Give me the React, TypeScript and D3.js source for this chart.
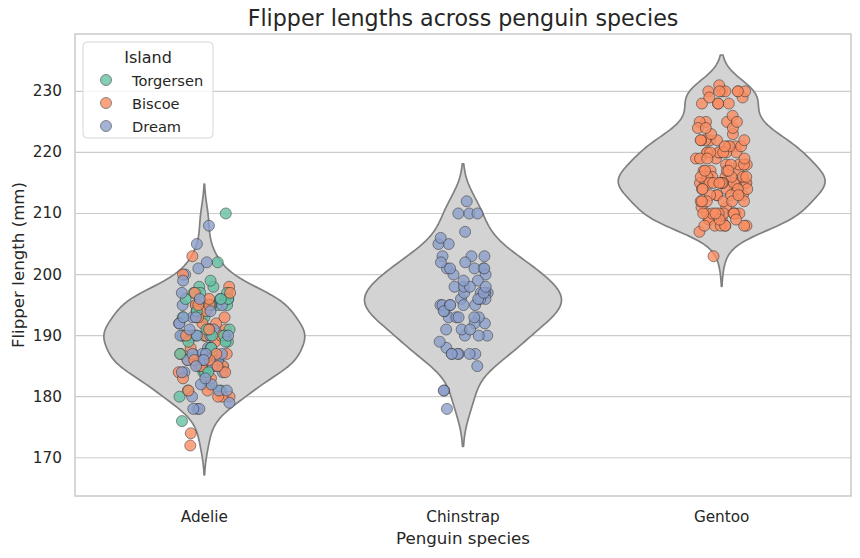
import React from "react";
import * as d3 from "d3";

const species = ["Adelie", "Chinstrap", "Gentoo"];
const islands = ["Torgersen", "Biscoe", "Dream"];
const islandColors = ["#66c2a5", "#fc8d62", "#8da0cb"];
const yTicks = [170, 180, 190, 200, 210, 220, 230];

const adelieTorgersen = [
  181, 186, 195, 193, 190, 181, 195, 193, 190, 186, 180, 182, 191, 198, 185, 195, 197, 184, 194,
  190, 190, 196, 197, 190, 195, 191, 184, 187, 195, 189, 196, 187, 193, 191, 194, 190, 189, 189, 190, 202,
  176, 198, 197, 184, 191, 188, 199, 196, 210, 187, 196,
];
const adelieBiscoe = [
  174, 180, 189, 185, 180, 187, 183, 187, 172, 180,
  190, 191, 186, 193, 181, 194, 185, 195, 185, 192, 184, 192, 195, 188, 190, 198,
  203, 183, 190, 193, 184, 197, 190, 197, 191, 187, 186, 185, 196, 186, 181, 200, 195, 193,
];
const adelieDream = [
  178, 178, 188, 184, 195, 196, 190, 180, 181, 184, 182, 195, 186, 196, 185, 190, 182, 179, 190, 191,
  186, 188, 190, 200, 187, 191, 186, 193, 181, 194, 185, 195, 205, 187, 186, 187, 208, 190, 196, 178,
  192, 192, 202, 183, 190, 193, 184, 199, 190, 197, 191, 187, 186, 185, 193, 201,
];
const chinstrapDream = [
  192, 196, 193, 188, 197, 198, 178, 197, 195, 198, 193, 194, 185, 201, 190, 201, 197, 181, 190, 195,
  181, 191, 187, 193, 195, 197, 200, 200, 191, 205, 187, 201, 187, 203, 195, 199, 195, 210, 192, 205,
  210, 187, 196, 196, 196, 201, 190, 212, 187, 198, 199, 201, 193, 203, 187, 197, 191, 203, 202, 194,
  206, 189, 195, 207, 202, 193, 210, 198,
];
const gentooBiscoe = [
  211, 230, 210, 218, 215, 210, 211, 219, 209, 215, 214, 216, 214, 213, 210, 217, 210, 221, 209, 222,
  218, 215, 213, 215, 215, 215, 216, 215, 210, 220, 222, 209, 207, 230, 220, 220, 213, 219, 208, 208,
  208, 225, 210, 216, 222, 217, 210, 225, 213, 215, 210, 220, 210, 225, 217, 220, 208, 220, 208, 224,
  208, 221, 214, 231, 219, 230, 214, 229, 220, 223, 216, 221, 221, 217, 216, 230, 209, 220, 215, 223,
  212, 221, 212, 224, 212, 228, 218, 218, 212, 230, 218, 228, 212, 224, 214, 226, 216, 222, 203, 225,
  219, 228, 215, 228, 216, 215, 210, 219, 208, 209, 216, 229, 213, 230, 217, 230, 217, 222, 214, 215,
  222, 212, 213,
];

type Pt = { s: number; isl: number; v: number };

function chunks(arr: number[], k: number): number[][] {
  const out: number[][] = [];
  const size = Math.ceil(arr.length / k);
  for (let i = 0; i < k; i++) out.push(arr.slice(i * size, (i + 1) * size));
  return out;
}

function buildPoints(): Pt[] {
  const pts: Pt[] = [];
  const t = chunks(adelieTorgersen, 3);
  const b = chunks(adelieBiscoe, 3);
  const d = chunks(adelieDream, 3);
  for (let i = 0; i < 3; i++) {
    t[i].forEach((v) => pts.push({ s: 0, isl: 0, v }));
    b[i].forEach((v) => pts.push({ s: 0, isl: 1, v }));
    d[i].forEach((v) => pts.push({ s: 0, isl: 2, v }));
  }
  chinstrapDream.forEach((v) => pts.push({ s: 1, isl: 2, v }));
  gentooBiscoe.forEach((v) => pts.push({ s: 2, isl: 1, v }));
  return pts;
}

function jitter(i: number): number {
  const s = Math.sin(i * 12.9898 + 78.233) * 43758.5453;
  return (s - Math.floor(s)) * 2 - 1;
}

function kde(values: number[]) {
  const n = values.length;
  const sd = d3.deviation(values) as number;
  const bw = sd * Math.pow(n, -0.2);
  const lo = (d3.min(values) as number) - 2 * bw;
  const hi = (d3.max(values) as number) + 2 * bw;
  const grid = d3.range(100).map((i) => lo + ((hi - lo) * i) / 99);
  const c = 1 / (n * bw * Math.sqrt(2 * Math.PI));
  const dens = grid.map((x) => {
    let s = 0;
    for (const xi of values) {
      const z = (x - xi) / bw;
      s += Math.exp(-0.5 * z * z);
    }
    return { y: x, d: s * c };
  });
  return { dens, lo, hi };
}

const W = 860;
const H = 558;
const L = 75;
const R = 851;
const T = 34;
const B = 496;
const textColor = "#262626";

export default function App() {
  const groups = [
    [...adelieTorgersen, ...adelieBiscoe, ...adelieDream],
    chinstrapDream,
    gentooBiscoe,
  ];
  const kdes = groups.map(kde);
  const lo = d3.min(kdes, (k) => k.lo) as number;
  const hi = d3.max(kdes, (k) => k.hi) as number;
  const pad = (hi - lo) * 0.05;
  const y = d3.scaleLinear().domain([lo - pad, hi + pad]).range([B, T]);
  const x = d3.scaleLinear().domain([-0.5, 2.5]).range([L, R]);
  const step = x(1) - x(0);
  const maxD = d3.max(kdes, (k) => d3.max(k.dens, (p) => p.d)) as number;

  const pts = buildPoints();

  return (
    <svg width={W} height={H} style={{ position: "absolute", left: 0, top: 0, fontFamily: "DejaVu Sans" }}>
      <rect x={0} y={0} width={W} height={H} fill="#fff" />
      {yTicks.map((t) => (
        <line key={t} x1={L} x2={R} y1={y(t)} y2={y(t)} stroke="#cccccc" strokeWidth={1.2} />
      ))}
      <rect x={L} y={T} width={R - L} height={B - T} fill="none" stroke="#cccccc" strokeWidth={1.6} />
      {kdes.map((k, i) => {
        const cx = x(i);
        const area = d3
          .area<{ y: number; d: number }>()
          .y((p) => y(p.y))
          .x0((p) => cx - (p.d / maxD) * 0.4 * step)
          .x1((p) => cx + (p.d / maxD) * 0.4 * step);
        return (
          <path key={i} d={area(k.dens) || ""} fill="#d3d3d3" stroke="#808080" strokeWidth={1.7} strokeLinejoin="round" />
        );
      })}
      {pts.map((p, i) => (
        <circle
          key={i}
          cx={x(p.s) + jitter(i) * 0.1 * step}
          cy={y(p.v)}
          r={5.5}
          fill={islandColors[p.isl]}
          stroke="#333"
          strokeWidth={0.7}
          opacity={0.8}
        />
      ))}
      {yTicks.map((t) => (
        <text key={t} x={62} y={y(t)} textAnchor="end" dominantBaseline="central" fontSize={15.28} fill={textColor}>
          {t}
        </text>
      ))}
      {species.map((s, i) => (
        <text key={s} x={x(i)} y={517} textAnchor="middle" dominantBaseline="central" fontSize={15.28} fill={textColor}>
          {s}
        </text>
      ))}
      <text x={(L + R) / 2} y={538} textAnchor="middle" dominantBaseline="central" fontSize={16.67} fill={textColor}>
        Penguin species
      </text>
      <text
        transform={`translate(18,${(T + B) / 2}) rotate(-90)`}
        textAnchor="middle"
        dominantBaseline="central"
        fontSize={16.67}
        fill={textColor}
      >
        Flipper length (mm)
      </text>
      <text x={(L + R) / 2} y={18} textAnchor="middle" dominantBaseline="central" fontSize={22.2} fill={textColor}>
        Flipper lengths across penguin species
      </text>
      <g>
        <rect x={83} y={42} width={130} height={96} rx={4} fill="#fff" fillOpacity={0.8} stroke="#d6d6d6" strokeWidth={1} />
        <text x={148} y={57} textAnchor="middle" dominantBaseline="central" fontSize={16} fill={textColor}>
          Island
        </text>
        {islands.map((isl, i) => (
          <g key={isl}>
            <circle cx={106} cy={80 + i * 23} r={5.5} fill={islandColors[i]} stroke="#333" strokeWidth={0.7} opacity={0.8} />
            <text x={132} y={80 + i * 23} dominantBaseline="central" fontSize={14.6} fill={textColor}>
              {isl}
            </text>
          </g>
        ))}
      </g>
    </svg>
  );
}
